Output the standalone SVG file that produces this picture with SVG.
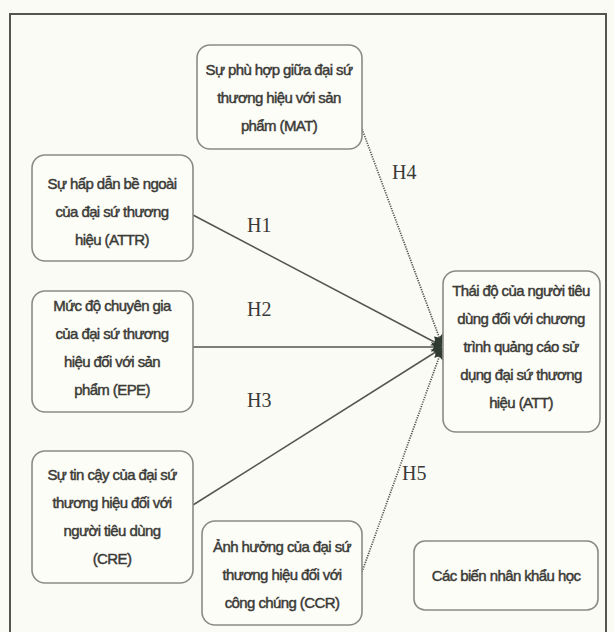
<svg xmlns="http://www.w3.org/2000/svg" width="614" height="632" viewBox="0 0 614 632">
<style>
.box{fill:#fdfdf8;stroke:#8a8a86;stroke-width:1.6}
.t{font-family:"Liberation Sans",Arial,sans-serif;font-size:15px;fill:#3a3a36;text-anchor:middle;stroke:#3a3a36;stroke-width:0.45;letter-spacing:-0.6px}
.h{font-family:"Liberation Serif","Times New Roman",serif;font-size:20px;fill:#3a3a36}
.s{stroke:#55554f;stroke-width:1.5;fill:none}
.d{stroke:#55554f;stroke-width:1.7;fill:none;stroke-dasharray:1.2 1.2}
</style>
<defs>
<marker id="arr" viewBox="0 0 12 10" refX="11" refY="5" markerWidth="12" markerHeight="10" markerUnits="userSpaceOnUse" orient="auto">
<path d="M0,0 L12,5 L0,10 L3,5 z" fill="#2f3a30"/>
</marker>
</defs>
<rect width="614" height="632" fill="#fbfbf6"/>
<g id="frame">
<path d="M10,632 L10,14 L606,14 L606,632" fill="none" stroke="#55554f" stroke-width="2"/>
</g>
<g id="connectors">
<line class="s" x1="193" y1="215" x2="442" y2="346" marker-end="url(#arr)"/>
<line class="s" x1="193" y1="347" x2="442" y2="347" marker-end="url(#arr)"/>
<line class="s" x1="193" y1="505" x2="442" y2="348" marker-end="url(#arr)"/>
<line class="d" x1="358" y1="118" x2="442" y2="345" marker-end="url(#arr)"/>
<line class="d" x1="362" y1="572" x2="442" y2="349" marker-end="url(#arr)"/>
<text class="h" x="247" y="232">H1</text>
<text class="h" x="247" y="316">H2</text>
<text class="h" x="247" y="407">H3</text>
<text class="h" x="392" y="179">H4</text>
<text class="h" x="402" y="480">H5</text>
</g>
<g id="MAT">
<rect class="box" x="197" y="45" width="165" height="104" rx="13"/>
<text class="t" x="279" y="75">Sự phù hợp giữa đại sứ</text>
<text class="t" x="279" y="103">thương hiệu với sản</text>
<text class="t" x="279" y="131">phẩm (MAT)</text>
</g>
<g id="ATTR">
<rect class="box" x="32" y="155" width="161" height="106" rx="13"/>
<text class="t" x="112" y="189">Sự hấp dẫn bề ngoài</text>
<text class="t" x="112" y="217">của đại sứ thương</text>
<text class="t" x="112" y="245">hiệu (ATTR)</text>
</g>
<g id="EPE">
<rect class="box" x="32" y="291" width="161" height="121" rx="13"/>
<text class="t" x="112" y="311">Mức độ chuyên gia</text>
<text class="t" x="112" y="339">của đại sứ thương</text>
<text class="t" x="112" y="367">hiệu đối với sản</text>
<text class="t" x="112" y="395">phẩm (EPE)</text>
</g>
<g id="CRE">
<rect class="box" x="32" y="451" width="161" height="132" rx="13"/>
<text class="t" x="112" y="480">Sự tin cậy của đại sứ</text>
<text class="t" x="112" y="508">thương hiệu đối với</text>
<text class="t" x="112" y="536">người tiêu dùng</text>
<text class="t" x="112" y="564">(CRE)</text>
</g>
<g id="CCR">
<rect class="box" x="202" y="521" width="160" height="104" rx="13"/>
<text class="t" x="282" y="552">Ảnh hưởng của đại sứ</text>
<text class="t" x="282" y="580">thương hiệu đối với</text>
<text class="t" x="282" y="608">công chúng (CCR)</text>
</g>
<g id="ATT">
<rect class="box" x="443" y="271" width="157" height="161" rx="13"/>
<text class="t" x="521" y="296">Thái độ của người tiêu</text>
<text class="t" x="521" y="324">dùng đối với chương</text>
<text class="t" x="521" y="352">trình quảng cáo sử</text>
<text class="t" x="521" y="380">dụng đại sứ thương</text>
<text class="t" x="521" y="408">hiệu (ATT)</text>
</g>
<g id="DEM">
<rect class="box" x="414" y="541" width="184" height="69" rx="11"/>
<text class="t" x="506" y="581">Các biến nhân khẩu học</text>
</g>
</svg>
